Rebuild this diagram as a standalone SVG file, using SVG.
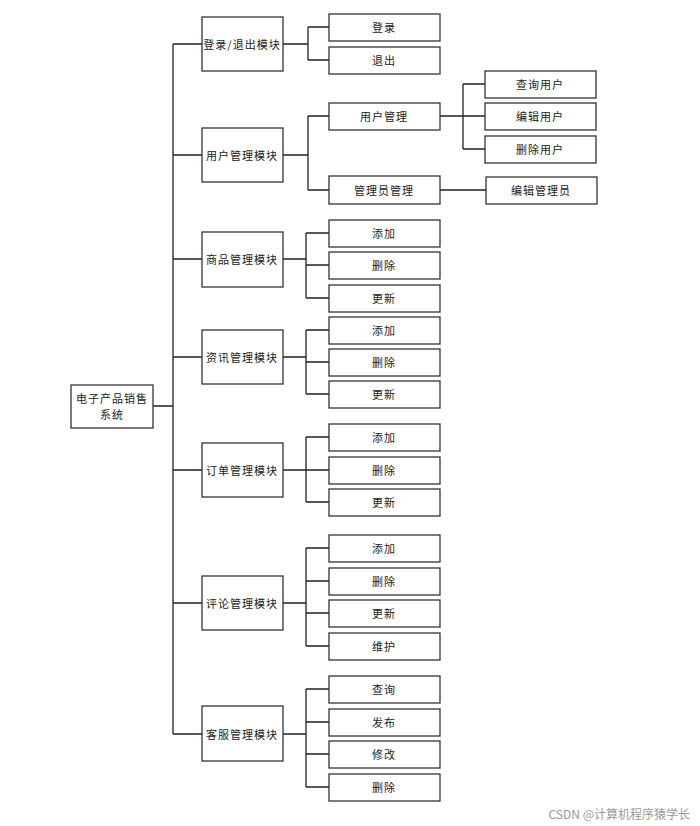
<svg xmlns="http://www.w3.org/2000/svg" width="700" height="826" viewBox="0 0 700 826">
<style>
rect{fill:#fff;stroke:#333;stroke-width:1.3}
text{font-family:"Noto Sans CJK SC",sans-serif;font-size:11px;fill:#222;text-anchor:middle;dominant-baseline:central;letter-spacing:1px}
#conn path{fill:none;stroke:#222;stroke-width:1.3}
.wm{font-size:12px;fill:#999;text-anchor:end;letter-spacing:0}
</style>
<rect x="0" y="0" width="700" height="826" style="stroke:none"/>
<g id="conn">
<path d="M153 406H173M173 44V734"/>
<path d="M173 44H202M173 155H202M173 259H202M173 357H202M173 470H202M173 603H202M173 734H202"/>
<path d="M283 44H308M308 27V60M308 27H329M308 60H329"/>
<path d="M283 155H308M308 116V190M308 116H329M308 190H329"/>
<path d="M440 116H463M463 84V149M463 84H485M463 116H485M463 149H485M440 190H486"/>
<path d="M283 259H306M306 233V298M306 233H329M306 265H329M306 298H329"/>
<path d="M283 357H306M306 330V394M306 330H329M306 362H329M306 394H329"/>
<path d="M283 470H306M306 437V502M306 437H329M306 470H329M306 502H329"/>
<path d="M283 603H306M306 548V646M306 548H329M306 581H329M306 613H329M306 646H329"/>
<path d="M283 734H306M306 689V787M306 689H329M306 722H329M306 754H329M306 787H329"/>
</g>
<g id="root"><rect x="71" y="385" width="82" height="43"/><text x="112" y="398">电子产品销售</text><text x="112" y="414">系统</text></g>
<g id="m1"><rect x="202" y="17" width="81" height="54"/><text x="242" y="44">登录/退出模块</text></g>
<g id="m2"><rect x="202" y="128" width="81" height="54"/><text x="242" y="155">用户管理模块</text></g>
<g id="m3"><rect x="202" y="232" width="81" height="55"/><text x="242" y="259">商品管理模块</text></g>
<g id="m4"><rect x="202" y="330" width="81" height="54"/><text x="242" y="357">资讯管理模块</text></g>
<g id="m5"><rect x="202" y="443" width="81" height="54"/><text x="242" y="470">订单管理模块</text></g>
<g id="m6"><rect x="202" y="576" width="81" height="54"/><text x="242" y="603">评论管理模块</text></g>
<g id="m7"><rect x="202" y="706" width="81" height="55"/><text x="242" y="734">客服管理模块</text></g>
<g id="l1"><rect x="329" y="14" width="111" height="27"/><text x="384" y="27">登录</text></g>
<g id="l2"><rect x="329" y="47" width="111" height="27"/><text x="384" y="60">退出</text></g>
<g id="u1"><rect x="329" y="103" width="111" height="27"/><text x="384" y="116">用户管理</text></g>
<g id="u2"><rect x="329" y="176" width="111" height="28"/><text x="384" y="190">管理员管理</text></g>
<g id="u11"><rect x="485" y="71" width="111" height="27"/><text x="540" y="84">查询用户</text></g>
<g id="u12"><rect x="485" y="103" width="111" height="27"/><text x="540" y="116">编辑用户</text></g>
<g id="u13"><rect x="485" y="136" width="111" height="27"/><text x="540" y="149">删除用户</text></g>
<g id="u21"><rect x="486" y="177" width="111" height="27"/><text x="541" y="190">编辑管理员</text></g>
<g id="g1"><rect x="329" y="220" width="111" height="27"/><text x="384" y="233">添加</text></g>
<g id="g2"><rect x="329" y="252" width="111" height="27"/><text x="384" y="265">删除</text></g>
<g id="g3"><rect x="329" y="285" width="111" height="27"/><text x="384" y="298">更新</text></g>
<g id="n1"><rect x="329" y="317" width="111" height="27"/><text x="384" y="330">添加</text></g>
<g id="n2"><rect x="329" y="349" width="111" height="27"/><text x="384" y="362">删除</text></g>
<g id="n3"><rect x="329" y="381" width="111" height="27"/><text x="384" y="394">更新</text></g>
<g id="o1"><rect x="329" y="424" width="111" height="27"/><text x="384" y="437">添加</text></g>
<g id="o2"><rect x="329" y="457" width="111" height="27"/><text x="384" y="470">删除</text></g>
<g id="o3"><rect x="329" y="489" width="111" height="27"/><text x="384" y="502">更新</text></g>
<g id="c1"><rect x="329" y="535" width="111" height="27"/><text x="384" y="548">添加</text></g>
<g id="c2"><rect x="329" y="568" width="111" height="27"/><text x="384" y="581">删除</text></g>
<g id="c3"><rect x="329" y="600" width="111" height="27"/><text x="384" y="613">更新</text></g>
<g id="c4"><rect x="329" y="633" width="111" height="27"/><text x="384" y="646">维护</text></g>
<g id="s1"><rect x="329" y="676" width="111" height="27"/><text x="384" y="689">查询</text></g>
<g id="s2"><rect x="329" y="709" width="111" height="27"/><text x="384" y="722">发布</text></g>
<g id="s3"><rect x="329" y="741" width="111" height="27"/><text x="384" y="754">修改</text></g>
<g id="s4"><rect x="329" y="774" width="111" height="27"/><text x="384" y="787">删除</text></g>
<text class="wm" x="690" y="813">CSDN @计算机程序猿学长</text>
</svg>
